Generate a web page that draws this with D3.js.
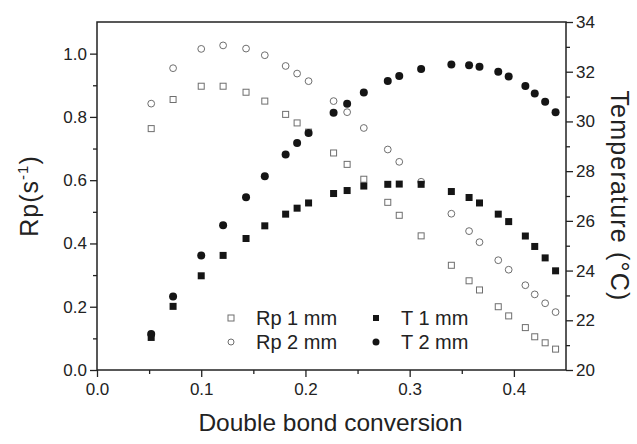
<!DOCTYPE html>
<html>
<head>
<meta charset="utf-8">
<script src="https://cdn.jsdelivr.net/npm/d3@7"></script>
<style>
  body { margin: 0; background: #fff; }
  svg text { font-family: "Liberation Sans", Arial, sans-serif; fill: #222; }
</style>
</head>
<body>
<div id="chart"></div>
<script>
var conversion = [0.052, 0.073, 0.100, 0.121, 0.143, 0.161, 0.181, 0.192, 0.203, 0.227, 0.240, 0.256,
                  0.279, 0.290, 0.311, 0.340, 0.357, 0.367, 0.385, 0.395, 0.411, 0.420, 0.430, 0.440];
var rp1mm = [0.763, 0.855, 0.897, 0.897, 0.878, 0.850, 0.808, 0.781, 0.752, 0.686, 0.650, 0.603,
             0.530, 0.489, 0.424, 0.331, 0.282, 0.253, 0.200, 0.171, 0.134, 0.105, 0.086, 0.066];
var rp2mm = [0.842, 0.954, 1.015, 1.026, 1.016, 0.995, 0.961, 0.937, 0.913, 0.850, 0.815, 0.765,
             0.697, 0.658, 0.595, 0.494, 0.439, 0.404, 0.347, 0.317, 0.268, 0.239, 0.211, 0.183];
var t1mm = [21.31, 22.56, 23.79, 24.61, 25.29, 25.80, 26.27, 26.51, 26.72, 27.10, 27.22, 27.40,
            27.47, 27.48, 27.47, 27.18, 26.94, 26.72, 26.27, 25.97, 25.39, 24.97, 24.51, 23.99];
var t2mm = [21.45, 22.96, 24.61, 25.82, 26.95, 27.79, 28.67, 29.13, 29.53, 30.35, 30.71, 31.16,
            31.63, 31.83, 32.11, 32.29, 32.26, 32.20, 32.00, 31.81, 31.43, 31.12, 30.79, 30.37];

var xTicks = [0, 0.1, 0.2, 0.3, 0.4];
var xMinor = [0.05, 0.15, 0.25, 0.35];
var rpTicks = [0, 0.2, 0.4, 0.6, 0.8, 1.0];
var rpMinor = [0.1, 0.3, 0.5, 0.7, 0.9];
var tTicks = [20, 22, 24, 26, 28, 30, 32, 34];
var tMinor = [21, 23, 25, 27, 29, 31, 33];
var legendNames = ["Rp 1 mm", "Rp 2 mm", "T 1 mm", "T 2 mm"];

var W = 637, H = 444;
var plotL = 97, plotR = 566, plotT = 22, plotB = 370;
var ink = "#222";

var svg = d3.select("#chart").append("svg")
    .attr("width", W)
    .attr("height", H);

var x = d3.scaleLinear().domain([0, 0.45]).range([plotL, plotR]);
var yRp = d3.scaleLinear().domain([0, 1.1]).range([plotB, plotT]);
var yT = d3.scaleLinear().domain([20, 34]).range([plotB, plotT]);

function styleAxis(g) {
    g.select(".domain").remove();
    g.selectAll("line").attr("stroke", ink).attr("stroke-width", 1.3);
    g.selectAll("text").attr("font-size", 17).attr("fill", ink)
	.style("font-family", "'Liberation Sans', Arial, sans-serif");
}

// bottom axis
svg.append("g").attr("transform", "translate(0," + plotB + ")")
    .call(d3.axisBottom(x).tickValues(xTicks).tickFormat(d3.format(".1f")).tickSize(7).tickPadding(6))
    .call(styleAxis);
svg.append("g").attr("transform", "translate(0," + plotB + ")")
    .call(d3.axisBottom(x).tickValues(xMinor).tickFormat("").tickSize(4))
    .call(styleAxis);

// left axis
svg.append("g").attr("transform", "translate(" + plotL + ",0)")
    .call(d3.axisLeft(yRp).tickValues(rpTicks).tickFormat(d3.format(".1f")).tickSize(7).tickPadding(3))
    .call(styleAxis);
svg.append("g").attr("transform", "translate(" + plotL + ",0)")
    .call(d3.axisLeft(yRp).tickValues(rpMinor).tickFormat("").tickSize(4))
    .call(styleAxis);

// right axis
svg.append("g").attr("transform", "translate(" + plotR + ",0)")
    .call(d3.axisRight(yT).tickValues(tTicks).tickFormat(d3.format("d")).tickSize(7).tickPadding(3))
    .call(styleAxis);
svg.append("g").attr("transform", "translate(" + plotR + ",0)")
    .call(d3.axisRight(yT).tickValues(tMinor).tickFormat("").tickSize(4))
    .call(styleAxis);

// frame
svg.append("rect")
    .attr("x", plotL).attr("y", plotT)
    .attr("width", plotR - plotL).attr("height", plotB - plotT)
    .attr("fill", "none").attr("stroke", ink).attr("stroke-width", 1.5);

// markers
var plot = svg.append("g");

function drawSeries(vals, yScale, shape, filled) {
    var pts = vals.map(function(v, i) { return {x: conversion[i], y: v}; });
    var sel = plot.selectAll(null).data(pts).enter();
    if (shape == "square") {
	var s = filled ? 7 : 6;
	sel.append("rect")
	    .attr("x", function(d) { return x(d.x) - s / 2; })
	    .attr("y", function(d) { return yScale(d.y) - s / 2; })
	    .attr("width", s).attr("height", s)
	    .attr("fill", filled ? "#151515" : "none")
	    .attr("stroke", filled ? "none" : "#6e6e6e")
	    .attr("stroke-width", 1);
    } else {
	sel.append("circle")
	    .attr("cx", function(d) { return x(d.x); })
	    .attr("cy", function(d) { return yScale(d.y); })
	    .attr("r", filled ? 4 : 3.4)
	    .attr("fill", filled ? "#151515" : "none")
	    .attr("stroke", filled ? "none" : "#6e6e6e")
	    .attr("stroke-width", 1);
    }
}

drawSeries(rp1mm, yRp, "square", false);
drawSeries(rp2mm, yRp, "circle", false);
drawSeries(t1mm, yT, "square", true);
drawSeries(t2mm, yT, "circle", true);

// legend
var legend = [
    {name: legendNames[0], shape: "square", filled: false, lx: 231, ly: 318},
    {name: legendNames[1], shape: "circle", filled: false, lx: 231, ly: 342},
    {name: legendNames[2], shape: "square", filled: true, lx: 376, ly: 318},
    {name: legendNames[3], shape: "circle", filled: true, lx: 376, ly: 342}
];
legend.forEach(function(l) {
    if (l.shape == "square") {
	svg.append("rect").attr("x", l.lx - 3).attr("y", l.ly - 3)
	    .attr("width", 6).attr("height", 6)
	    .attr("fill", l.filled ? "#151515" : "none")
	    .attr("stroke", l.filled ? "none" : "#6e6e6e");
    } else {
	svg.append("circle").attr("cx", l.lx).attr("cy", l.ly)
	    .attr("r", l.filled ? 3.5 : 3)
	    .attr("fill", l.filled ? "#151515" : "none")
	    .attr("stroke", l.filled ? "none" : "#6e6e6e");
    }
    svg.append("text").attr("x", l.lx + 25).attr("y", l.ly + 7)
	.attr("font-size", 20).text(l.name);
});

// axis titles
svg.append("text")
    .attr("x", (plotL + plotR) / 2 - 1).attr("y", 431)
    .attr("text-anchor", "middle").attr("font-size", 24.5)
    .text("Double bond conversion");

var rpLabel = svg.append("text")
    .attr("transform", "translate(38," + ((plotT + plotB) / 2) + ") rotate(-90)")
    .attr("text-anchor", "middle").attr("font-size", 25)
    .attr("letter-spacing", 1);
rpLabel.append("tspan").text("Rp(s");
rpLabel.append("tspan").attr("font-size", 15).attr("dy", -10).text("-1");
rpLabel.append("tspan").attr("dy", 10).text(")");

svg.append("text")
    .attr("transform", "translate(611," + ((plotT + plotB) / 2) + ") rotate(90)")
    .attr("text-anchor", "middle").attr("font-size", 25)
    .attr("letter-spacing", 1.2)
    .text("Temperature (°C)");
</script>
</body>
</html>
